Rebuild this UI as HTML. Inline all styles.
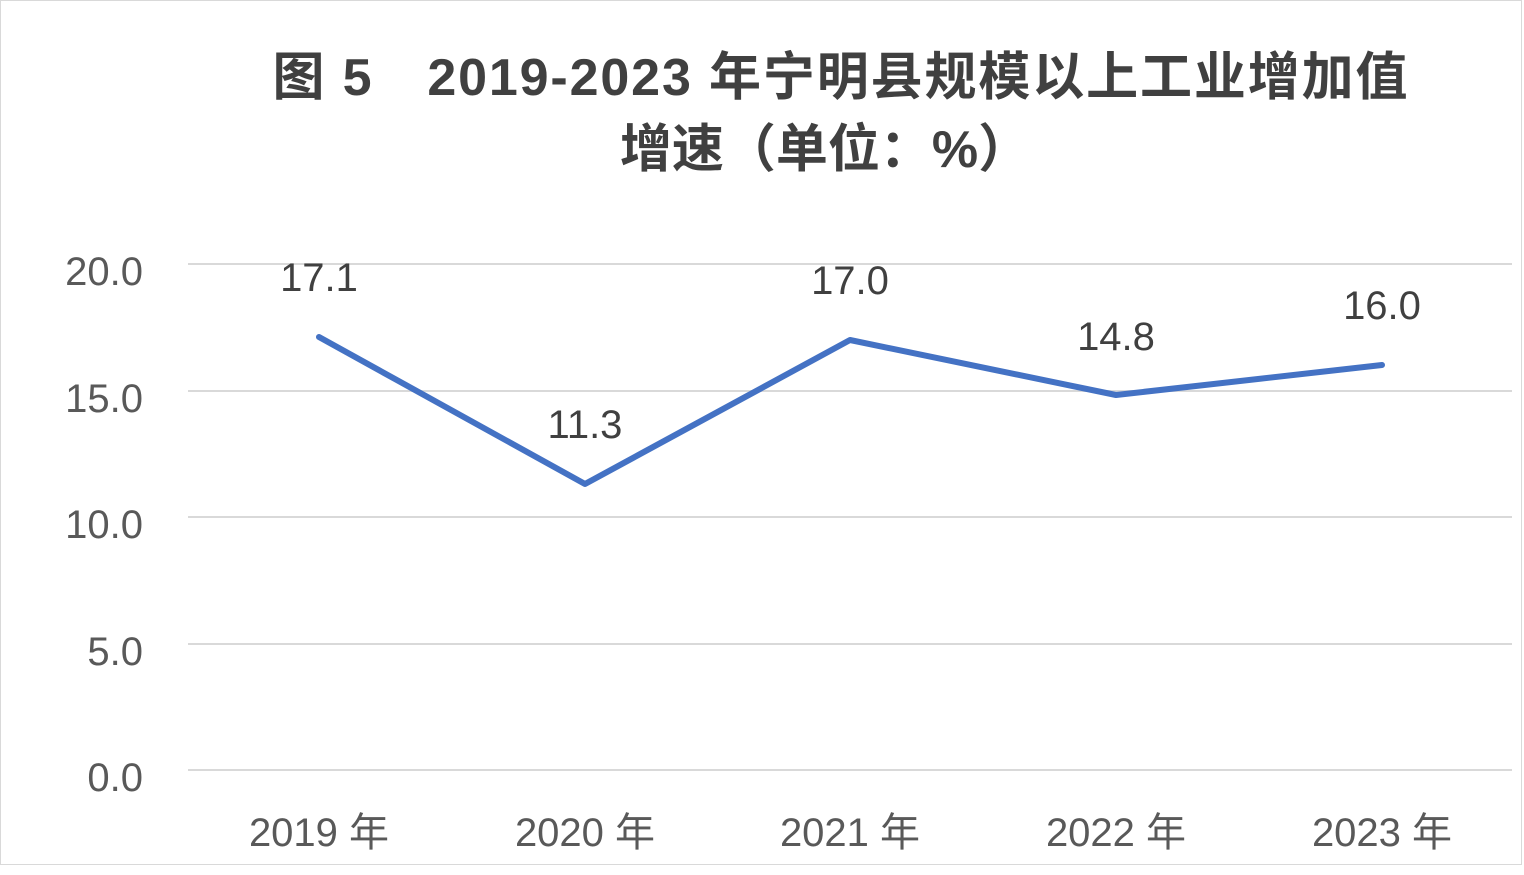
<!DOCTYPE html>
<html><head><meta charset="utf-8"><style>
body{margin:0;background:#fff;}
</style></head><body>
<svg width="1524" height="870" xmlns="http://www.w3.org/2000/svg" font-family="'Liberation Sans','Noto Sans CJK SC',sans-serif">
<rect x="0.5" y="0.5" width="1521" height="864" fill="#fff" stroke="#d9d9d9" stroke-width="1"/>
<text x="840" y="95" text-anchor="middle" font-size="52" font-weight="bold" fill="#404040" textLength="1135" lengthAdjust="spacing">图 5　2019-2023 年宁明县规模以上工业增加值</text>
<text x="825" y="167" text-anchor="middle" font-size="52" font-weight="bold" fill="#404040">增速（单位：%）</text>
<g stroke="#d9d9d9" stroke-width="2">
<line x1="188" y1="264" x2="1512" y2="264"/>
<line x1="188" y1="391" x2="1512" y2="391"/>
<line x1="188" y1="517" x2="1512" y2="517"/>
<line x1="188" y1="644" x2="1512" y2="644"/>
<line x1="188" y1="770" x2="1512" y2="770"/>
</g>
<g font-size="40" fill="#595959" text-anchor="end">
<text x="143" y="285">20.0</text>
<text x="143" y="412">15.0</text>
<text x="143" y="538">10.0</text>
<text x="143" y="665">5.0</text>
<text x="143" y="791">0.0</text>
</g>
<g font-size="40" fill="#595959" text-anchor="middle">
<text x="319" y="846">2019 年</text>
<text x="585" y="846">2020 年</text>
<text x="850" y="846">2021 年</text>
<text x="1116" y="846">2022 年</text>
<text x="1382" y="846">2023 年</text>
</g>
<polyline points="319,337 585,484 850,340 1116,395 1382,365" fill="none" stroke="#4472c4" stroke-width="6" stroke-linejoin="round" stroke-linecap="round"/>
<g font-size="40" fill="#404040" text-anchor="middle">
<text x="319" y="291">17.1</text>
<text x="585" y="438">11.3</text>
<text x="850" y="294">17.0</text>
<text x="1116" y="350">14.8</text>
<text x="1382" y="319">16.0</text>
</g>
</svg>
</body></html>
